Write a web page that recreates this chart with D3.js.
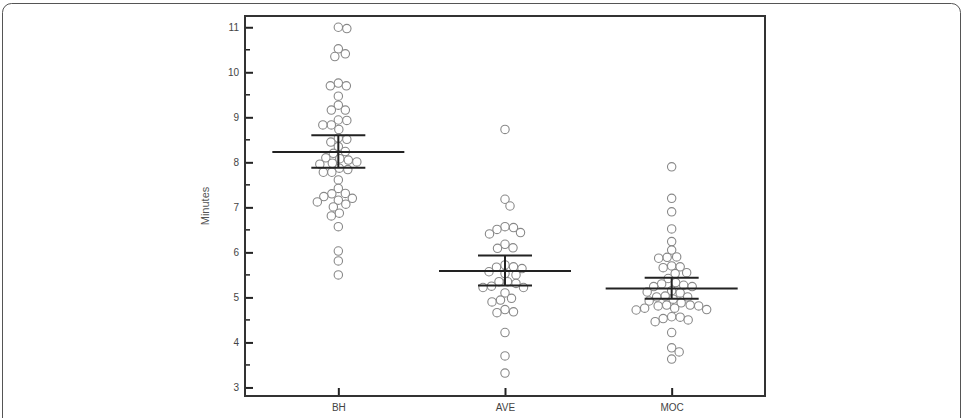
<!DOCTYPE html>
<html>
<head>
<meta charset="utf-8">
<title>Minutes by group</title>
<script src="https://d3js.org/d3.v7.min.js"></script>
<style>
body { margin: 0; background: #fff; }
.tick text { font: 10px "Liberation Sans", Arial, sans-serif; fill: #444; }
.xlab { font: 11px "Liberation Sans", Arial, sans-serif; fill: #333; }
.ylab { font: 11px "Liberation Sans", Arial, sans-serif; fill: #555; }
.dot { fill: #fff; stroke: #888; stroke-width: 1.1px; }
.bar { stroke: #222; stroke-width: 2px; }
</style>
</head>
<body>
<script>
var categories = ["BH", "AVE", "MOC"];

var bhValues = [11.0, 10.97, 10.52, 10.41, 10.35, 9.76, 9.70, 9.70, 9.47, 9.27, 9.16, 9.16,
  8.94, 8.93, 8.83, 8.83, 8.73, 8.54, 8.51, 8.45, 8.35, 8.24, 8.2, 8.1, 8.08, 8.05, 8.01,
  7.98, 7.96, 7.87, 7.84, 7.78, 7.78, 7.61, 7.42, 7.31, 7.30, 7.24, 7.2, 7.16, 7.12,
  7.07, 7.01, 6.87, 6.81, 6.57, 6.03, 5.81, 5.50];

var aveValues = [8.73, 7.18, 7.03, 6.57, 6.55, 6.51, 6.44, 6.41, 6.18, 6.10, 6.09,
  5.72, 5.68, 5.67, 5.64, 5.57, 5.53, 5.50, 5.35, 5.35, 5.31, 5.25, 5.22, 5.22, 5.10,
  4.98, 4.94, 4.90, 4.73, 4.68, 4.66, 4.22, 3.70, 3.32];

var mocValues = [7.90, 7.20, 6.90, 6.52, 6.24, 6.05, 5.90, 5.89, 5.87, 5.70, 5.68, 5.66,
  5.55, 5.53, 5.42, 5.33, 5.30, 5.27, 5.24, 5.24, 5.15, 5.12, 5.10, 5.03, 5.01, 5.01,
  4.96, 4.92, 4.88, 4.83, 4.83, 4.81, 4.81, 4.76, 4.76, 4.73, 4.72, 4.57, 4.56, 4.53,
  4.50, 4.46, 4.22, 3.88, 3.79, 3.63];

// mean and 95% CI of the mean
var means = [8.23, 5.585, 5.20];
var ciLow = [7.88, 5.267, 4.97];
var ciHigh = [8.60, 5.933, 5.436];

var yTicks = [3, 4, 5, 6, 7, 8, 9, 10, 11];

var W = 963, H = 418;
var plotLeft = 245, plotRight = 765, plotTop = 16, plotBottom = 396;

var svg = d3.select("body").append("svg")
  .attr("width", W).attr("height", H);

// outer figure border
svg.append("rect")
  .attr("x", 2.5).attr("y", 3.5)
  .attr("width", 958).attr("height", 440)
  .attr("rx", 9)
  .attr("fill", "none").attr("stroke", "#555").attr("stroke-width", 1);

var x = d3.scalePoint().domain(categories).range([plotLeft, plotRight]).padding(0.56);
var y = d3.scaleLinear().domain([2.81, 11.25]).range([plotBottom, plotTop]);

// y axis: major ticks + half-unit minor ticks, pointing into the plot
var yAxis = d3.axisLeft(y).tickValues(yTicks).tickFormat(d3.format("d"))
  .tickSizeInner(-8).tickSizeOuter(0).tickPadding(6);
var gy = svg.append("g").attr("transform", "translate(" + plotLeft + ",0)").call(yAxis);
gy.select(".domain").remove();
gy.selectAll(".tick line").attr("stroke", "#222").attr("stroke-width", 2);
gy.selectAll(".tick text").attr("x", -6);

var minor = d3.range(3.5, 11, 1);
svg.append("g").selectAll("line").data(minor).enter().append("line")
  .attr("x1", plotLeft).attr("x2", plotLeft + 5)
  .attr("y1", function(d) { return y(d); }).attr("y2", function(d) { return y(d); })
  .attr("stroke", "#222").attr("stroke-width", 1.5);

var xAxis = d3.axisBottom(x).tickSizeInner(-8).tickSizeOuter(0).tickPadding(10);
var gx = svg.append("g").attr("transform", "translate(0," + plotBottom + ")").call(xAxis);
gx.select(".domain").remove();
gx.selectAll(".tick line").attr("stroke", "#222").attr("stroke-width", 2);
gx.selectAll(".tick text").attr("class", "xlab").attr("y", 8).attr("dy", "0.71em");

// frame
svg.append("rect")
  .attr("x", plotLeft).attr("y", plotTop)
  .attr("width", plotRight - plotLeft).attr("height", plotBottom - plotTop)
  .attr("fill", "none").attr("stroke", "#333").attr("stroke-width", 2);

svg.append("text").attr("class", "ylab")
  .attr("transform", "translate(209," + ((plotTop + plotBottom) / 2) + ") rotate(-90)")
  .attr("text-anchor", "middle")
  .text("Minutes");

// simple beeswarm placement
var r = 4.2, minDist = 8.4;
function swarm(values, cx) {
  var placed = [];
  values.slice().sort(function(a, b) { return b - a; }).forEach(function(v) {
    var py = y(v), best = null;
    for (var k = 0; k < 200 && best === null; k++) {
      var offs = k === 0 ? [0] : [k * 0.5, -k * 0.5];
      for (var j = 0; j < offs.length; j++) {
        var px = cx + offs[j];
        var ok = placed.every(function(p) {
          var dx = p.x - px, dy = p.y - py;
          return dx * dx + dy * dy >= minDist * minDist;
        });
        if (ok) { best = px; break; }
      }
    }
    placed.push({x: best, y: py});
  });
  return placed;
}

var groups = [bhValues, aveValues, mocValues];
groups.forEach(function(vals, i) {
  var pts = swarm(vals, x(categories[i]));
  svg.append("g").selectAll("circle").data(pts).enter().append("circle")
    .attr("class", "dot")
    .attr("cx", function(d) { return d.x; })
    .attr("cy", function(d) { return d.y; })
    .attr("r", r);
});

// mean line and CI bars
var meanHalf = 66, capHalf = 27;
categories.forEach(function(c, i) {
  var g = svg.append("g");
  var cx = x(c);
  g.append("line").attr("class", "bar")
    .attr("x1", cx - meanHalf).attr("x2", cx + meanHalf)
    .attr("y1", y(means[i])).attr("y2", y(means[i]));
  g.append("line").attr("class", "bar")
    .attr("x1", cx).attr("x2", cx)
    .attr("y1", y(ciLow[i])).attr("y2", y(ciHigh[i]));
  [ciLow[i], ciHigh[i]].forEach(function(v) {
    g.append("line").attr("class", "bar")
      .attr("x1", cx - capHalf).attr("x2", cx + capHalf)
      .attr("y1", y(v)).attr("y2", y(v));
  });
});
</script>
</body>
</html>
